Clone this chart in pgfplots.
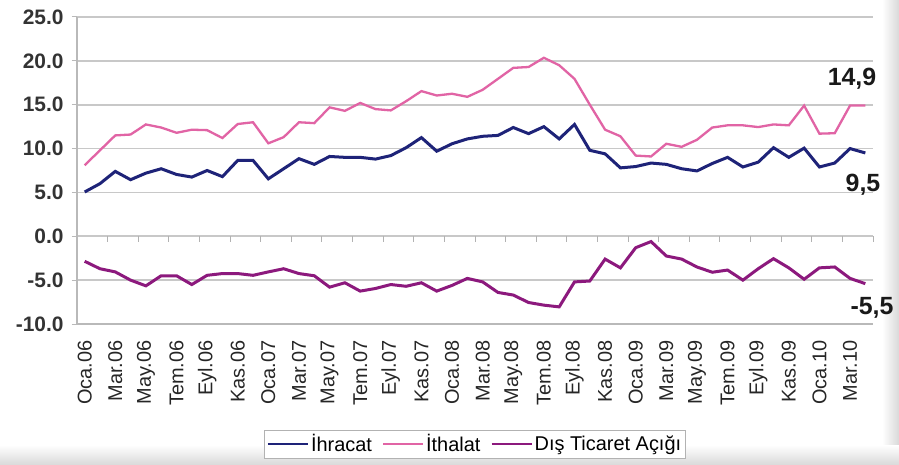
\documentclass[border=0pt]{standalone}
\usepackage{fontspec}
\setmainfont{Liberation Sans}
\usepackage{pgfplots}
\pgfplotsset{compat=1.18}
\usetikzlibrary{calc,backgrounds}
\definecolor{ihr}{RGB}{30,35,120}
\definecolor{ith}{RGB}{225,100,165}
\definecolor{dtc}{RGB}{140,25,125}
\definecolor{grd}{RGB}{200,200,200}
\begin{document}
\begin{tikzpicture}
\begin{axis}[
  scale only axis, width=796bp, height=307bp,
  xmin=-0.5, xmax=51.5, ymin=-10, ymax=25,
  axis x line*=bottom, axis y line*=left,
  axis line style={draw=gray!55, line width=1.3bp},
  tick align=outside,
  xtick={0,2,...,50},
  xticklabels={Oca.06,Mar.06,May.06,Tem.06,Eyl.06,Kas.06,Oca.07,Mar.07,May.07,Tem.07,Eyl.07,Kas.07,Oca.08,Mar.08,May.08,Tem.08,Eyl.08,Kas.08,Oca.09,Mar.09,May.09,Tem.09,Eyl.09,Kas.09,Oca.10,Mar.10},
  x tick label style={rotate=90, anchor=east, font=\fontsize{20}{24}\selectfont, text=black!85},
  xticklabel shift=8bp,
  x tick style={draw=none},
  ytick={-10,-5,0,5,10,15,20,25},
  yticklabels={-10.0,-5.0,0.0,5.0,10.0,15.0,20.0,25.0},
  y tick label style={font=\bfseries\fontsize{21}{24}\selectfont, text=black!80, xshift=-5bp},
  y tick style={draw=gray!55, line width=1bp},
  major tick length=5bp,
  ymajorgrids,
  major grid style={grd, line width=1.6bp},
  legend style={at={(axis description cs:0.5,-0.391)}, anchor=center, draw=gray!60, line width=0.8bp, font=\fontsize{20}{24}\selectfont, inner sep=2.5bp, /tikz/every even column/.append style={column sep=8bp}},
  legend columns=3,
  legend image code/.code={\draw[#1, line width=2.2bp] (0bp,0bp) -- (40bp,0bp);},
  clip=false,
]
\coordinate (O) at (rel axis cs:0,0);
\pgfplotsinvokeforeach{1.5,3.5,5.5,7.5,9.5,11.5,13.5,15.5,17.5,19.5,21.5,23.5,25.5,27.5,29.5,31.5,33.5,35.5,37.5,39.5,41.5,43.5,45.5,47.5,49.5,51.5}{\draw[gray!60, line width=1bp] (axis cs:#1,0) -- (axis cs:#1,-0.6);}
\addplot[ihr, line width=3bp] coordinates {
(0,5.05)(1,6.0)(2,7.4)(3,6.45)(4,7.2)(5,7.7)(6,7.05)(7,6.75)(8,7.5)(9,6.8)
(10,8.65)(11,8.65)(12,6.55)(13,7.7)(14,8.85)(15,8.2)(16,9.1)(17,9.0)(18,9.0)(19,8.8)
(20,9.2)(21,10.1)(22,11.25)(23,9.7)(24,10.55)(25,11.1)(26,11.4)(27,11.5)(28,12.4)(29,11.7)
(30,12.5)(31,11.1)(32,12.75)(33,9.8)(34,9.4)(35,7.8)(36,7.95)(37,8.35)(38,8.2)(39,7.7)
(40,7.45)(41,8.3)(42,9.0)(43,7.9)(44,8.45)(45,10.1)(46,9.0)(47,10.05)(48,7.9)(49,8.35)
(50,10.0)(51,9.5)};
\addlegendentry{İhracat}
\addplot[ith, line width=2.3bp] coordinates {
(0,8.1)(1,9.8)(2,11.5)(3,11.6)(4,12.75)(5,12.4)(6,11.8)(7,12.15)(8,12.1)(9,11.2)
(10,12.8)(11,13.0)(12,10.6)(13,11.3)(14,13.0)(15,12.9)(16,14.7)(17,14.3)(18,15.2)(19,14.5)
(20,14.35)(21,15.4)(22,16.55)(23,16.05)(24,16.25)(25,15.9)(26,16.7)(27,17.95)(28,19.2)(29,19.3)
(30,20.35)(31,19.5)(32,17.95)(33,15.0)(34,12.15)(35,11.4)(36,9.2)(37,9.1)(38,10.55)(39,10.2)
(40,11.0)(41,12.4)(42,12.65)(43,12.65)(44,12.45)(45,12.75)(46,12.65)(47,14.9)(48,11.7)(49,11.75)
(50,14.9)(51,14.9)};
\addlegendentry{İthalat}
\addplot[dtc, line width=3bp] coordinates {
(0,-2.85)(1,-3.7)(2,-4.06)(3,-5.0)(4,-5.65)(5,-4.5)(6,-4.5)(7,-5.5)(8,-4.45)(9,-4.25)
(10,-4.25)(11,-4.45)(12,-4.06)(13,-3.7)(14,-4.25)(15,-4.5)(16,-5.8)(17,-5.3)(18,-6.25)(19,-5.95)
(20,-5.5)(21,-5.7)(22,-5.3)(23,-6.25)(24,-5.6)(25,-4.8)(26,-5.2)(27,-6.4)(28,-6.7)(29,-7.55)
(30,-7.85)(31,-8.05)(32,-5.2)(33,-5.1)(34,-2.6)(35,-3.6)(36,-1.3)(37,-0.6)(38,-2.25)(39,-2.6)
(40,-3.5)(41,-4.1)(42,-3.85)(43,-5.0)(44,-3.7)(45,-2.55)(46,-3.6)(47,-4.9)(48,-3.6)(49,-3.5)
(50,-4.8)(51,-5.4)};
\addlegendentry{Dış Ticaret Açığı}
\end{axis}
\begin{scope}[on background layer]
\fill[white] ($(O)+(-77bp,-141bp)$) rectangle ($(O)+(822bp,324bp)$);
\shade[left color=white, right color=gray!30] ($(O)+(805bp,-141bp)$) rectangle ($(O)+(822bp,324bp)$);
\shade[top color=white, bottom color=gray!30] ($(O)+(-77bp,-141bp)$) rectangle ($(O)+(822bp,-121bp)$);
\end{scope}
\node[font=\bfseries\fontsize{25}{28}\selectfont, text=black!90] at ($(O)+(775bp,245bp)$) {14,9};
\node[font=\bfseries\fontsize{25}{28}\selectfont, text=black!90] at ($(O)+(786bp,139bp)$) {9,5};
\node[font=\bfseries\fontsize{25}{28}\selectfont, text=black!90] at ($(O)+(795bp,16bp)$) {-5,5};
\end{tikzpicture}
\end{document}
